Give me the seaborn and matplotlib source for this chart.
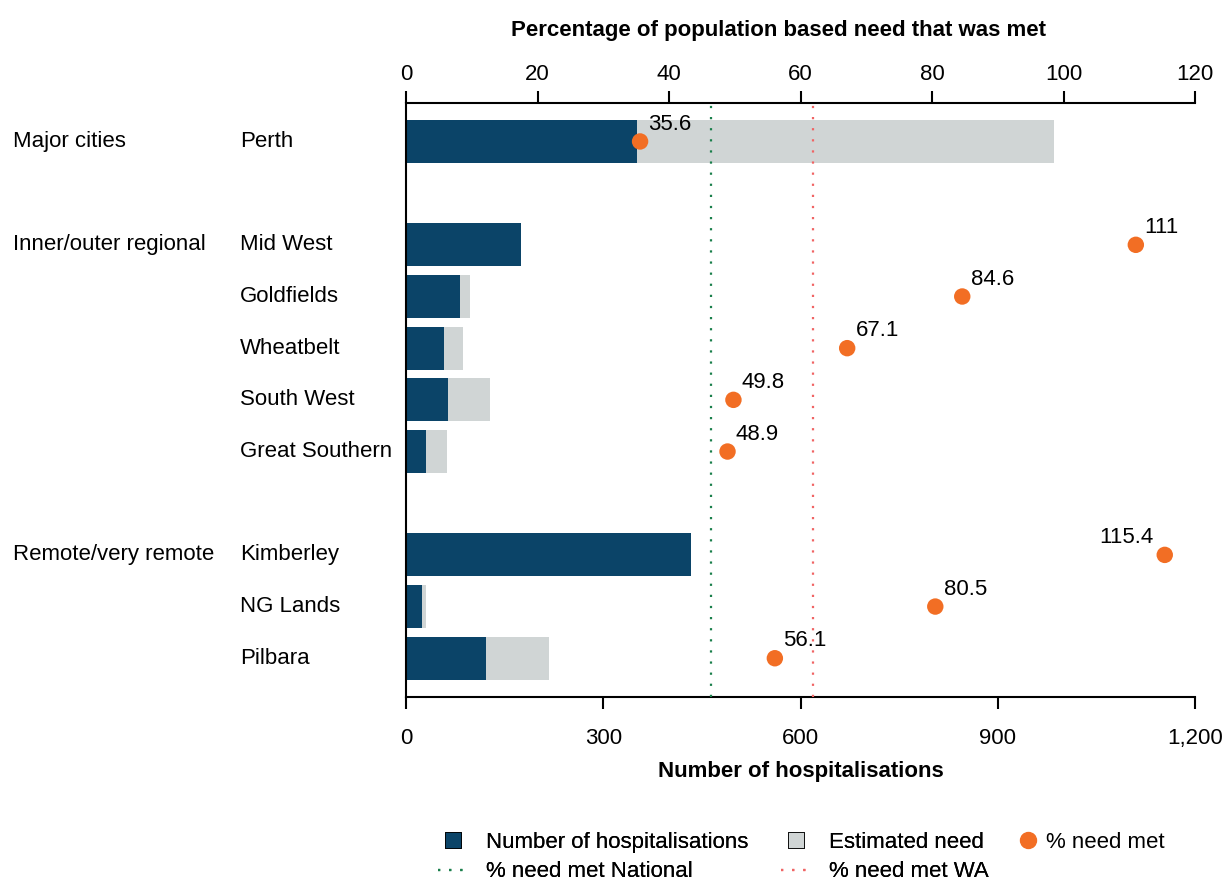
import pandas as pd
import matplotlib.pyplot as plt
import matplotlib.transforms as mtransforms
from matplotlib.lines import Line2D
from matplotlib.ticker import FuncFormatter
import seaborn as sns

sns.set_theme(style="white")
plt.rcParams["font.family"] = ["Liberation Sans", "DejaVu Sans"]
plt.rcParams["text.color"] = "black"
plt.rcParams["axes.labelcolor"] = "black"
plt.rcParams["xtick.color"] = "black"
plt.rcParams["xtick.labelcolor"] = "black"

# data
regions = ["Perth", "Mid West", "Goldfields", "Wheatbelt", "South West",
           "Great Southern", "Kimberley", "NG Lands", "Pilbara"]
groups = ["Major cities", "Inner/outer regional", "Remote/very remote"]
group_rows = [0, 2, 8]
rows = [0, 2, 3, 4, 5, 6, 8, 9, 10]  # blank rows separate the remoteness groups
hospitalisations = [351, 175, 82, 58, 64, 31, 433, 25, 122]
estimated_need = [986, 158, 97, 86, 128, 63, 375, 31, 218]
pct_met = [35.6, 111, 84.6, 67.1, 49.8, 48.9, 115.4, 80.5, 56.1]
pct_national = 46.4
pct_wa = 61.9

df = pd.DataFrame({"region": regions, "row": rows, "hosp": hospitalisations,
                   "need": estimated_need, "pct": pct_met})

NAVY = "#0b4468"
GREY = "#d0d5d5"
ORANGE = "#f26e24"
GREEN = "#1a7f4b"
RED = "#f06464"
FS = 16
DOTS = (0, (1, 4))

fig = plt.figure(figsize=(12.27, 8.82), dpi=100)
ax = fig.add_axes([406 / 1227, 1 - 697 / 882, (1195 - 406) / 1227, (697 - 102.7) / 882])

sns.barplot(data=df, x="need", y="row", orient="h", native_scale=True,
            color=GREY, width=0.83, saturation=1, linewidth=0, ax=ax)
sns.barplot(data=df, x="hosp", y="row", orient="h", native_scale=True,
            color=NAVY, width=0.83, saturation=1, linewidth=0, ax=ax)

ax.set_xlim(0, 1200)
ax.set_ylim(10.75, -0.75)
ax.set_xticks(range(0, 1201, 300))
ax.xaxis.set_major_formatter(FuncFormatter(lambda v, p: f"{int(v):,}"))
ax.set_yticks([])
ax.set_ylabel("")
ax.set_xlabel("Number of hospitalisations", fontsize=FS, fontweight="bold", labelpad=9)
ax.tick_params(axis="x", direction="out", length=8.5, width=1.5, labelsize=FS,
               pad=13.5, bottom=True)
for s in ["top", "right"]:
    ax.spines[s].set_visible(False)
for s in ["left", "bottom"]:
    ax.spines[s].set_color("black")
    ax.spines[s].set_linewidth(1.5)

# percentage on the top axis
ax2 = ax.twiny()
ax2.set_xlim(0, 120)
ax2.axvline(pct_national, color=GREEN, linestyle=DOTS, linewidth=1.6)
ax2.axvline(pct_wa, color=RED, linestyle=DOTS, linewidth=1.6)
sns.scatterplot(data=df, x="pct", y="row", color=ORANGE, s=140, edgecolor="none",
                ax=ax2, zorder=5, legend=False)
ax2.set_ylim(10.75, -0.75)
ax2.set_xticks(range(0, 121, 20))
ax2.set_xlabel("Percentage of population based need that was met",
               fontsize=FS, fontweight="bold")
ax2.xaxis.set_label_coords(0.472, 1.113)
ax2.tick_params(axis="x", direction="out", length=8.5, width=1.5, labelsize=FS,
                pad=4.5, top=True)
for s in ["bottom", "left", "right"]:
    ax2.spines[s].set_visible(False)
ax2.spines["top"].set_color("black")
ax2.spines["top"].set_linewidth(1.5)

for name, r, p in zip(regions, rows, pct_met):
    label = f"{p:g}"
    if name == "Kimberley":
        ax2.annotate(label, (p, r), xytext=(-8, 5), textcoords="offset points",
                     ha="right", va="bottom", fontsize=FS)
    else:
        ax2.annotate(label, (p, r), xytext=(6, 5), textcoords="offset points",
                     ha="left", va="bottom", fontsize=FS)

# row labels to the left of the axes
trans = mtransforms.blended_transform_factory(fig.transFigure, ax.transData)
for name, r in zip(regions, rows):
    ax.text(240 / 1227, r, name, transform=trans, ha="left", va="center", fontsize=FS)
for g, r in zip(groups, group_rows):
    ax.text(13 / 1227, r, g, transform=trans, ha="left", va="center", fontsize=FS)

handles = [
    Line2D([], [], color=NAVY, marker="s", markersize=12, markeredgecolor="black",
           markeredgewidth=0.6, linestyle="none", label="Number of hospitalisations"),
    Line2D([], [], color=GREEN, linestyle=DOTS, linewidth=1.6, label="% need met National"),
    Line2D([], [], color=GREY, marker="s", markersize=12, markeredgecolor="black",
           markeredgewidth=0.6, linestyle="none", label="Estimated need"),
    Line2D([], [], color=RED, linestyle=DOTS, linewidth=1.6, label="% need met WA"),
]
leg = fig.legend(handles=handles, ncol=2, loc="upper left", frameon=False, fontsize=FS,
                 bbox_to_anchor=(418 / 1227, 1 - 812 / 882), handlelength=1.35,
                 handletextpad=0.8, columnspacing=1.5, labelspacing=0.38)
fig.add_artist(leg)
fig.legend(handles=[Line2D([], [], color=ORANGE, marker="o", markersize=11.5,
                           linestyle="none", label="% need met")],
           loc="upper left", frameon=False, fontsize=FS,
           bbox_to_anchor=(997 / 1227, 1 - 812 / 882), handlelength=1.0,
           handletextpad=0.3)

fig.savefig("out.png", dpi=100)
